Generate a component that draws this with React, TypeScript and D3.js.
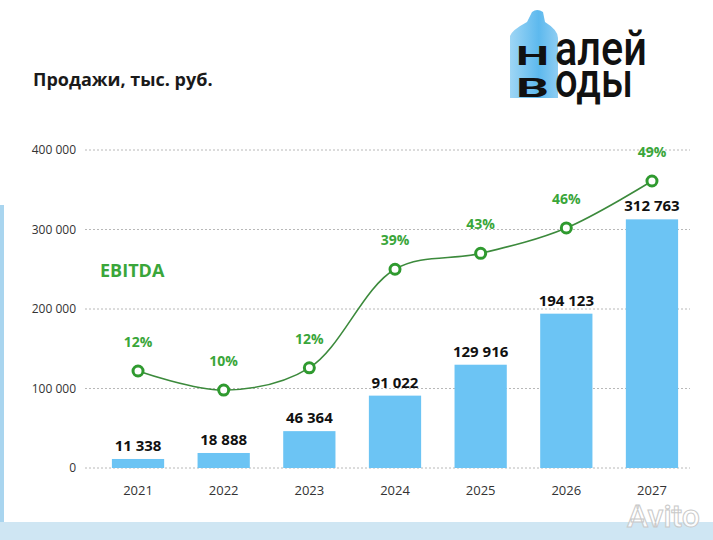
import { useEffect, useRef } from 'react'
import * as d3 from 'd3'

const W = 713, H = 540

const YEARS = ['2021', '2022', '2023', '2024', '2025', '2026', '2027']
const SALES = [11338, 18888, 46364, 91022, 129916, 194123, 312763]
const EBITDA_PCT = ['12%', '10%', '12%', '39%', '43%', '46%', '49%']
// decorative EBITDA curve level, read in units of the sales axis
const EBITDA_LEVEL = [122000, 98000, 126000, 250000, 270000, 302000, 361000]
const Y_TICKS = [0, 100000, 200000, 300000, 400000]

const fmt = d3.formatLocale({ decimal: ',', thousands: '\u00a0', grouping: [3], currency: ['', ''] }).format(',d')

export default function App() {
  const svgRef = useRef<SVGSVGElement>(null)

  useEffect(() => {
    const svg = d3.select(svgRef.current)
    svg.selectAll('*').remove()
    svg.style('font-family', '"Open Sans", sans-serif')

    const x = d3.scaleBand<string>().domain(YEARS).range([95.2, 694.8]).paddingInner(0.39).paddingOuter(0.195)
    const y = d3.scaleLinear([0, 400000], [468, 150])

    // background frame
    svg.append('rect').attr('x', 0).attr('y', 0).attr('width', W).attr('height', H).attr('fill', '#ffffff')
    svg.append('rect').attr('x', 0).attr('y', 205).attr('width', 4).attr('height', H - 205).attr('fill', '#a9d5ef')
    svg.append('rect').attr('x', 0).attr('y', 522).attr('width', W).attr('height', H - 522).attr('fill', '#cfe6f3')

    // logo
    const logo = svg.append('g')
    const defs = svg.append('defs')
    const grad = defs.append('linearGradient').attr('id', 'bottle').attr('x1', 0).attr('x2', 1).attr('y1', 0).attr('y2', 0)
    grad.append('stop').attr('offset', '0%').attr('stop-color', '#9fd6f5')
    grad.append('stop').attr('offset', '60%').attr('stop-color', '#5db9ee')
    grad.append('stop').attr('offset', '100%').attr('stop-color', '#8fcdf2')
    logo.append('path')
      .attr('d', 'M532,12 Q537,8 543,12 L545,22 Q558,30 558,38 L558,98 L510,98 L510,36 Q512,30 527,22 Z')
      .attr('fill', 'url(#bottle)')
    const logoText = (tx: number, ty: number, s: string, size: number, len: number, weight: number) =>
      logo.append('text').attr('x', tx).attr('y', ty).attr('textLength', len).attr('lengthAdjust', 'spacingAndGlyphs')
        .attr('font-family', 'Roboto, sans-serif').attr('font-weight', weight).attr('font-size', size)
        .attr('fill', '#111').text(s)
    logoText(516, 65, 'Н', 26, 33, 700)
    logoText(555, 65, 'алей', 48, 92, 500)
    logoText(516, 97, 'В', 26, 33, 700)
    logoText(555, 97, 'оды', 48, 78, 500)

    // title
    svg.append('text').attr('x', 33).attr('y', 86).attr('font-size', 18).attr('font-weight', 700)
      .attr('fill', '#1a1a1a').text('Продажи, тыс. руб.')

    // grid + y labels
    const grid = svg.append('g')
    Y_TICKS.forEach(t => {
      grid.append('line').attr('x1', 85).attr('x2', 690).attr('y1', y(t)).attr('y2', y(t))
        .attr('stroke', '#b8b8b8').attr('stroke-width', 1).attr('stroke-dasharray', '2,2')
      grid.append('text').attr('x', 76).attr('y', y(t) + 4).attr('text-anchor', 'end')
        .attr('font-size', 12).attr('fill', '#333').text(fmt(t))
    })

    // bars
    svg.append('g').selectAll('rect').data(SALES).join('rect')
      .attr('x', (_, i) => x(YEARS[i])!).attr('width', x.bandwidth())
      .attr('y', d => y(d)).attr('height', d => y(0) - y(d)).attr('fill', '#6cc4f4')

    svg.append('g').selectAll('text').data(SALES).join('text')
      .attr('x', (_, i) => x(YEARS[i])! + x.bandwidth() / 2).attr('y', d => y(d) - 8)
      .attr('text-anchor', 'middle').attr('font-size', 15).attr('font-weight', 700).attr('fill', '#111')
      .text(d => fmt(d))

    // year labels
    svg.append('g').selectAll('text').data(YEARS).join('text')
      .attr('x', d => x(d)! + x.bandwidth() / 2).attr('y', 495)
      .attr('text-anchor', 'middle').attr('font-size', 13).attr('fill', '#333').text(d => d)

    // EBITDA curve
    const pts: [number, number][] = EBITDA_LEVEL.map((v, i) => [x(YEARS[i])! + x.bandwidth() / 2, y(v)])
    svg.append('path').attr('d', d3.line().curve(d3.curveCatmullRom.alpha(0.5))(pts))
      .attr('fill', 'none').attr('stroke', '#3c8a3c').attr('stroke-width', 1.6)
    svg.append('g').selectAll('circle').data(pts).join('circle')
      .attr('cx', d => d[0]).attr('cy', d => d[1]).attr('r', 5)
      .attr('fill', '#fff').attr('stroke', '#2f9a2f').attr('stroke-width', 3)
    svg.append('g').selectAll('text').data(pts).join('text')
      .attr('x', d => d[0]).attr('y', d => d[1] - 24)
      .attr('text-anchor', 'middle').attr('font-size', 14).attr('font-weight', 700).attr('fill', '#3aa63a')
      .text((_, i) => EBITDA_PCT[i])

    svg.append('text').attr('x', 100).attr('y', 277).attr('font-size', 18).attr('font-weight', 700)
      .attr('fill', '#3aa63a').text('EBITDA')

    // watermark
    svg.append('text').attr('x', 700).attr('y', 527).attr('text-anchor', 'end')
      .attr('font-family', 'Roboto, sans-serif').attr('font-size', 32).attr('font-weight', 500)
      .attr('fill', '#ffffff').attr('fill-opacity', 0.9).attr('stroke', '#c9c9c9').attr('stroke-width', 1)
      .text('Avito')
  }, [])

  return (
    <svg ref={svgRef} width={W} height={H} viewBox={`0 0 ${W} ${H}`}
      style={{ position: 'absolute', left: 0, top: 0, display: 'block' }} />
  )
}
